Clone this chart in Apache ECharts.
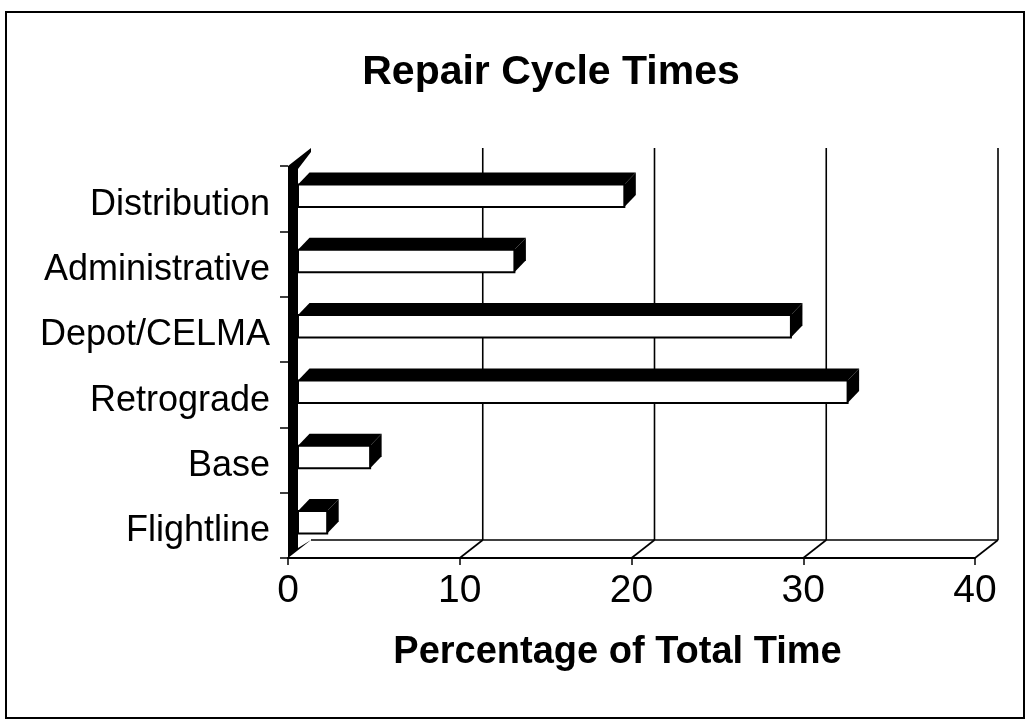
<!DOCTYPE html>
<html>
<head>
<meta charset="utf-8">
<script src="https://cdn.jsdelivr.net/npm/echarts@6/dist/echarts.min.js"></script>
<style>
  html, body { margin: 0; padding: 0; background: #fff; }
  #chart { width: 1028px; height: 726px; }
</style>
</head>
<body>
<div id="chart"></div>
<script>
// categories listed bottom to top (category axis starts at the bottom)
const categories = ['Flightline', 'Base', 'Retrograde', 'Depot/CELMA', 'Administrative', 'Distribution'];
const percentages = [1.7, 4.2, 32.0, 28.7, 12.6, 19.0];
const xTicks = [0, 10, 20, 30, 40];

const FONT = '"Liberation Sans", Arial, sans-serif';
// depth of the 3d box (front plane -> back wall)
const DX = 23, DY = -18;
// bars: face offset from front plane, and bar depth
const FX = 10, FY = -3;
const BDX = 11.5, BDY = -12;

function renderWalls(params, api) {
    const v = api.value(0);
    const cs = params.coordSys;
    const top = cs.y, bottom = cs.y + cs.height;
    const x = api.coord([v, 0])[0];
    const line = { stroke: '#000', lineWidth: 1.6 };
    const children = [];
    if (v === 0) {
        const xEnd = api.coord([40, 0])[0];
        // back edge of floor
        children.push({ type: 'line', shape: { x1: x + DX, y1: bottom + DY, x2: xEnd + DX, y2: bottom + DY }, style: line });
        // left wall
        children.push({
            type: 'polygon',
            shape: { points: [
                [x, top], [x + DX, top + DY], [x + DX, top + DY + 4], [x + 10, top + 3],
                [x + 10, bottom - 10], [x + DX, bottom + DY], [x, bottom]
            ] },
            style: { fill: '#000' }
        });
    } else {
        children.push({ type: 'line', shape: { x1: x + DX, y1: bottom + DY, x2: x + DX, y2: top + DY }, style: line });
        children.push({ type: 'line', shape: { x1: x, y1: bottom, x2: x + DX, y2: bottom + DY }, style: line });
    }
    return { type: 'group', children: children };
}

function renderBars(params, api) {
    const idx = api.value(1);
    const p0 = api.coord([0, idx]);
    const p1 = api.coord([api.value(0), idx]);
    const h = api.size([0, 1])[1] * 0.345;
    const x0 = p0[0] + FX, x1 = p1[0] + FX;
    const yTop = p0[1] + FY - h / 2, yBot = p0[1] + FY + h / 2;
    return {
        type: 'group',
        children: [
            { type: 'polygon', shape: { points: [[x0, yTop], [x1, yTop], [x1 + BDX, yTop + BDY], [x0 + BDX, yTop + BDY]] }, style: { fill: '#000' } },
            { type: 'polygon', shape: { points: [[x1, yTop], [x1 + BDX, yTop + BDY], [x1 + BDX, yBot + BDY], [x1, yBot]] }, style: { fill: '#000' } },
            { type: 'rect', shape: { x: x0, y: yTop, width: x1 - x0, height: yBot - yTop }, style: { fill: '#fff', stroke: '#000', lineWidth: 2 } }
        ]
    };
}

const chart = echarts.init(document.getElementById('chart'));
chart.setOption({
    backgroundColor: '#fff',
    animation: false,
    title: {
        text: 'Repair Cycle Times',
        left: 546,
        textAlign: 'center',
        top: 47,
        textStyle: { fontFamily: FONT, fontSize: 41, fontWeight: 'bold', color: '#000' }
    },
    graphic: [{
        type: 'rect',
        shape: { x: 6, y: 12, width: 1018, height: 706 },
        style: { fill: 'none', stroke: '#000', lineWidth: 2 },
        silent: true
    }],
    grid: { left: 288, right: 53, top: 166, bottom: 168 },
    xAxis: {
        type: 'value',
        min: 0,
        max: 40,
        interval: 10,
        name: 'Percentage of Total Time',
        nameLocation: 'middle',
        nameGap: 76,
        nameTextStyle: { fontFamily: FONT, fontSize: 38, fontWeight: 'bold', color: '#000', padding: [0, 28, 0, 0] },
        axisLine: { show: true, lineStyle: { color: '#000', width: 2 } },
        axisTick: { show: true, length: 7, lineStyle: { color: '#000', width: 1.5 } },
        axisLabel: { fontFamily: FONT, fontSize: 39, color: '#000', margin: 14 },
        splitLine: { show: false }
    },
    yAxis: {
        type: 'category',
        data: categories,
        axisLine: { show: false },
        axisTick: { show: true, length: 8, lineStyle: { color: '#000', width: 1.5 } },
        axisLabel: { fontFamily: FONT, fontSize: 36, color: '#000', margin: 18, verticalAlign: 'top', lineHeight: 12 },
        splitLine: { show: false }
    },
    series: [
        {
            type: 'custom',
            name: 'walls',
            renderItem: renderWalls,
            data: xTicks.map(function (v) { return [v, 0]; }),
            encode: { x: 0, y: 1 },
            z: 1,
            silent: true
        },
        {
            type: 'custom',
            name: 'Percentage',
            renderItem: renderBars,
            data: percentages.map(function (v, i) { return [v, i]; }),
            encode: { x: 0, y: 1 },
            z: 3
        }
    ]
});
</script>
</body>
</html>
